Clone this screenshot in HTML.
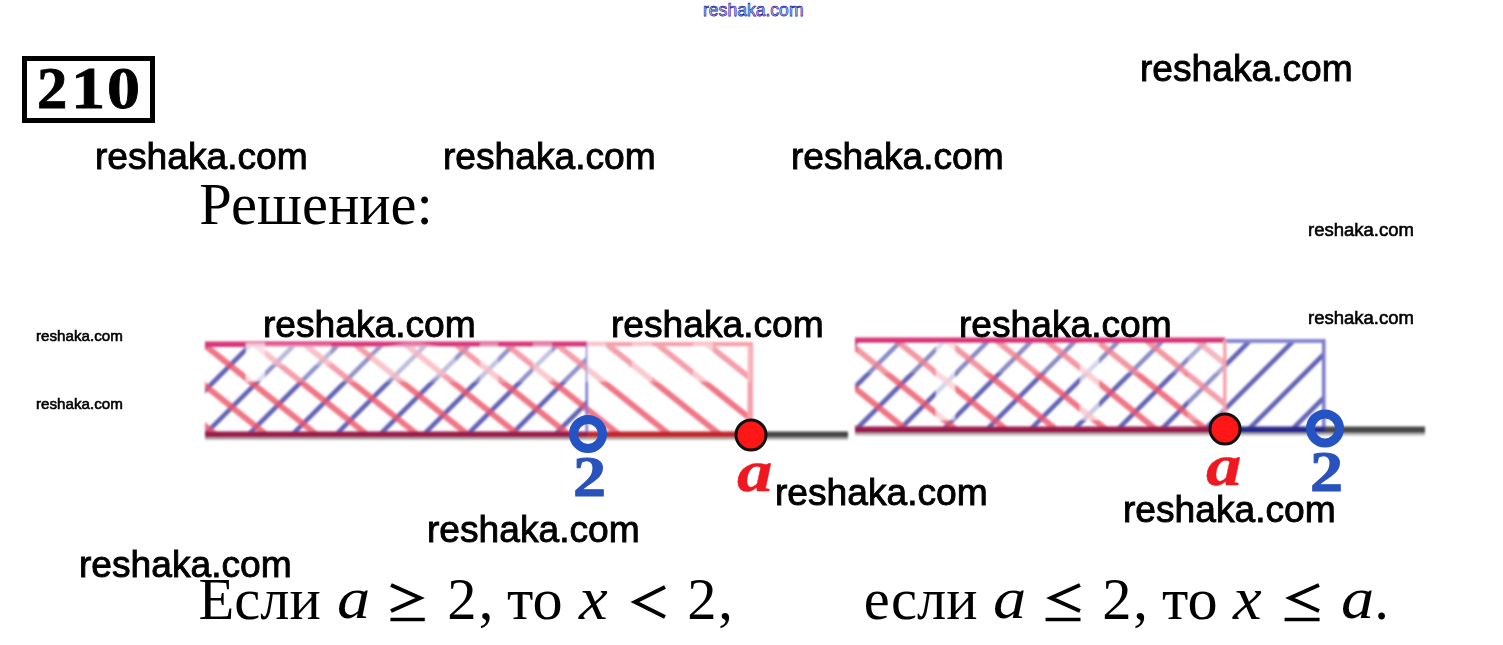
<!DOCTYPE html>
<html><head><meta charset="utf-8">
<style>
html,body{margin:0;padding:0;background:#fff;}
body{width:1503px;height:645px;position:relative;overflow:hidden;}
.a{position:absolute;white-space:nowrap;line-height:1;}
.wm{font-family:"Liberation Sans",sans-serif;color:#000;font-size:37.7px;-webkit-text-stroke:0.9px #000;transform:scaleX(0.986);transform-origin:0 0;}
.ws{font-family:"Liberation Sans",sans-serif;color:#000;-webkit-text-stroke:0.6px #000;}
.sf{font-family:"Liberation Serif",serif;color:#000;font-size:58px;}
.it{font-style:italic;}
svg{position:absolute;left:0;top:0;}
.dg{font:bold 59.5px "Liberation Serif",serif;line-height:1;-webkit-text-stroke:0.8px #000;transform-origin:0 0;}
.lb2{font:bold 56px "Liberation Serif",serif;color:#2a52bc;transform:scaleX(1.18);transform-origin:0 0;-webkit-text-stroke:1px #2a52bc;line-height:1;}
.lba{font:bold italic 59.6px "Liberation Serif",serif;color:#f01820;transform:scaleX(1.19);transform-origin:0 0;-webkit-text-stroke:0.4px #f01820;line-height:1;}
</style></head><body>

<!-- diagrams -->
<svg width="1503" height="645" viewBox="0 0 1503 645">
  <defs>
    <clipPath id="c1r"><rect x="205" y="343" width="546" height="90"/></clipPath>
    <clipPath id="c1b"><rect x="205" y="343" width="382" height="90"/></clipPath>
    <clipPath id="c2r"><rect x="855" y="339" width="370" height="88"/></clipPath>
    <clipPath id="c2b"><rect x="855" y="339" width="469" height="88"/></clipPath>
    <filter id="bl" x="-5%" y="-5%" width="110%" height="110%"><feGaussianBlur stdDeviation="1.0"/></filter>
  </defs>
  <g filter="url(#bl)">
  <!-- D1 red hatch: lines hitting y=432 at 212.6+50.4k, slope 0.8 -->
  <g clip-path="url(#c1b)" stroke="#6262b6" stroke-width="4.6" id="h1b"><line x1="221.6" y1="330" x2="106.6" y2="445"/><line x1="265.4" y1="330" x2="150.4" y2="445"/><line x1="309.2" y1="330" x2="194.2" y2="445"/><line x1="353.0" y1="330" x2="238.0" y2="445"/><line x1="396.8" y1="330" x2="281.8" y2="445"/><line x1="440.6" y1="330" x2="325.6" y2="445"/><line x1="484.4" y1="330" x2="369.4" y2="445"/><line x1="528.2" y1="330" x2="413.2" y2="445"/><line x1="572.0" y1="330" x2="457.0" y2="445"/><line x1="615.8" y1="330" x2="500.8" y2="445"/><line x1="659.6" y1="330" x2="544.6" y2="445"/><line x1="703.4" y1="330" x2="588.4" y2="445"/></g>
  <g clip-path="url(#c2b)" stroke="#6262b6" stroke-width="4.6" id="h2b"><line x1="873.3" y1="325" x2="758.3" y2="440"/><line x1="916.9" y1="325" x2="801.9" y2="440"/><line x1="960.5" y1="325" x2="845.5" y2="440"/><line x1="1004.1" y1="325" x2="889.1" y2="440"/><line x1="1047.7" y1="325" x2="932.7" y2="440"/><line x1="1091.3" y1="325" x2="976.3" y2="440"/><line x1="1134.9" y1="325" x2="1019.9" y2="440"/><line x1="1178.5" y1="325" x2="1063.5" y2="440"/><line x1="1222.1" y1="325" x2="1107.1" y2="440"/><line x1="1265.7" y1="325" x2="1150.7" y2="440"/><line x1="1309.3" y1="325" x2="1194.3" y2="440"/><line x1="1352.9" y1="325" x2="1237.9" y2="440"/><line x1="1396.5" y1="325" x2="1281.5" y2="440"/><line x1="1440.1" y1="325" x2="1325.1" y2="440"/></g>
  <g clip-path="url(#c1r)" stroke="#ec5468" stroke-width="6" stroke-opacity="0.8" id="h1r"><line x1="85.1" y1="330" x2="228.8" y2="445"/><line x1="135.5" y1="330" x2="279.2" y2="445"/><line x1="185.9" y1="330" x2="329.6" y2="445"/><line x1="236.3" y1="330" x2="380.0" y2="445"/><line x1="286.7" y1="330" x2="430.4" y2="445"/><line x1="337.1" y1="330" x2="480.9" y2="445"/><line x1="387.5" y1="330" x2="531.2" y2="445"/><line x1="437.9" y1="330" x2="581.6" y2="445"/><line x1="488.3" y1="330" x2="632.0" y2="445"/><line x1="538.7" y1="330" x2="682.4" y2="445"/><line x1="589.1" y1="330" x2="732.9" y2="445"/><line x1="639.5" y1="330" x2="783.2" y2="445"/><line x1="689.9" y1="330" x2="833.6" y2="445"/><line x1="740.3" y1="330" x2="884.0" y2="445"/></g>
  <g clip-path="url(#c2r)" stroke="#ec5468" stroke-width="6" stroke-opacity="0.8" id="h2r"><line x1="727.2" y1="325" x2="869.1" y2="440"/><line x1="777.2" y1="325" x2="919.1" y2="440"/><line x1="827.2" y1="325" x2="969.1" y2="440"/><line x1="877.2" y1="325" x2="1019.1" y2="440"/><line x1="927.2" y1="325" x2="1069.1" y2="440"/><line x1="977.2" y1="325" x2="1119.1" y2="440"/><line x1="1027.2" y1="325" x2="1169.1" y2="440"/><line x1="1077.2" y1="325" x2="1219.1" y2="440"/><line x1="1127.2" y1="325" x2="1269.1" y2="440"/><line x1="1177.2" y1="325" x2="1319.1" y2="440"/><line x1="1227.2" y1="325" x2="1369.1" y2="440"/></g>

  <!-- D1 borders -->
  <rect x="205" y="341.5" width="382" height="5.5" fill="#d8357a"/>
  <rect x="587" y="342" width="164" height="4.5" fill="#f6a0aa"/>
  <rect x="747.5" y="342" width="5.5" height="92" fill="#f6a0aa"/>
  <rect x="585.5" y="344" width="2.5" height="90" fill="#7a74d0"/>
  <!-- white overlay approx -->
  <g fill="#fff">
    <rect x="246" y="346" width="505" height="36" opacity="0.3"/>
    <rect x="246" y="343" width="19" height="38" opacity="0.7"/>
    <rect x="265" y="344" width="66" height="21" opacity="0.35"/>
    <ellipse cx="413" cy="362" rx="43" ry="19" opacity="0.4"/>
    <rect x="480" y="343" width="18" height="38" opacity="0.45"/>
    <rect x="533" y="343" width="19" height="38" opacity="0.45"/>
    <rect x="587" y="343" width="19" height="38" opacity="0.45"/>
    <rect x="632" y="343" width="20" height="38" opacity="0.45"/>
    <rect x="693" y="343" width="20" height="38" opacity="0.45"/>
    <rect x="858" y="343" width="365" height="30" opacity="0.25"/>
    <rect x="936" y="342" width="19" height="78" opacity="0.72"/>
    <rect x="1080" y="342" width="19" height="78" opacity="0.65"/>
    <rect x="1188" y="342" width="36" height="78" opacity="0.3"/>
  </g>
  <!-- D1 axis -->
  <rect x="205" y="437" width="643" height="3" fill="#b8b8b8"/>
  <rect x="205" y="431.5" width="382" height="6" fill="#9a1a4c"/>
  <rect x="587" y="431.5" width="164" height="6" fill="#c0282c"/>
  <rect x="751" y="431.5" width="97" height="6" fill="#474747"/>

  <!-- D2 borders -->
  <rect x="855" y="337.5" width="370" height="5.5" fill="#d8357a"/>
  <rect x="1225" y="339" width="99" height="4" fill="#8886d2"/>
  <rect x="1322" y="339" width="3.5" height="90" fill="#7a78cc"/>
  <rect x="1223" y="340" width="3.5" height="88" fill="#f6a0aa"/>
  <!-- D2 axis -->
  <rect x="855" y="432.5" width="570" height="3" fill="#b8b8b8"/>
  <rect x="855" y="426.5" width="370" height="6.5" fill="#9a1a4c"/>
  <rect x="1225" y="426.5" width="100" height="6.5" fill="#2c2c8c"/>
  <rect x="1325" y="426.5" width="100" height="6.5" fill="#4a4a4a"/>
  </g>

  <!-- points -->
  <circle cx="588" cy="434" r="14.5" fill="none" stroke="#2453c4" stroke-width="9"/>
  <circle cx="751" cy="435" r="15" fill="#ff1616" stroke="#111" stroke-width="3"/>
  <circle cx="1325" cy="428.5" r="14.5" fill="none" stroke="#2453c4" stroke-width="9"/>
  <circle cx="1225" cy="429" r="15" fill="#ff1616" stroke="#111" stroke-width="3"/>
</svg>

<!-- labels -->
<div class="a lb2" style="left:572.9px;top:449.3px;">2</div>
<div class="a lba" style="left:736.7px;top:441.5px;">a</div>
<div class="a lba" style="left:1205.6px;top:435.5px;">a</div>
<div class="a lb2" style="left:1309.8px;top:443.7px;">2</div>

<!-- top blue watermark -->
<div class="a" style="left:702.8px;top:-0.9px;font:19.2px 'Liberation Sans';color:#d8d8f4;-webkit-text-stroke:0.75px #1c1ca6;transform:scaleX(0.915);transform-origin:0 0;">reshaka.com</div>

<!-- 210 box -->
<div class="a" style="left:22.4px;top:55.6px;width:122.5px;height:57.8px;border:5px solid #000;"></div>
<div class="a dg" style="left:36.9px;top:59.4px;transform:scaleX(1.02);">2</div>
<div class="a dg" style="left:71.0px;top:59.4px;transform:scaleX(1.15);">1</div>
<div class="a dg" style="left:106.8px;top:59.4px;transform:scaleX(1.11);">0</div>

<!-- Решение -->
<div class="a sf" style="left:199.25px;top:175.6px;font-size:58.5px;">Решение:</div>

<!-- bottom text -->
<div class="a sf" style="left:198.55px;top:571.31px;font-size:58.5px;">Если</div>
<div class="a sf it" style="left:336.71px;top:569.39px;font-size:59.0px;transform:scaleX(1.126);transform-origin:0 0;">a</div>
<div class="a sf" style="left:447.26px;top:571.31px;font-size:58.5px;">2</div>
<div class="a sf" style="left:478.66px;top:571.31px;font-size:58.5px;">,</div>
<div class="a sf" style="left:507.30px;top:571.31px;font-size:58.5px;transform:scaleX(1.030);transform-origin:0 0;">то</div>
<div class="a sf it" style="left:578.55px;top:567.71px;font-size:61.0px;transform:scaleX(1.060);transform-origin:0 0;">x</div>
<div class="a sf" style="left:687.36px;top:571.31px;font-size:58.5px;">2</div>
<div class="a sf" style="left:718.16px;top:571.31px;font-size:58.5px;">,</div>
<div class="a sf" style="left:863.66px;top:571.31px;font-size:58.5px;">если</div>
<div class="a sf it" style="left:992.71px;top:569.39px;font-size:59.0px;transform:scaleX(1.126);transform-origin:0 0;">a</div>
<div class="a sf" style="left:1102.36px;top:571.31px;font-size:58.5px;">2</div>
<div class="a sf" style="left:1133.26px;top:571.31px;font-size:58.5px;">,</div>
<div class="a sf" style="left:1162.30px;top:571.31px;font-size:58.5px;transform:scaleX(1.030);transform-origin:0 0;">то</div>
<div class="a sf it" style="left:1233.35px;top:567.71px;font-size:61.0px;transform:scaleX(1.060);transform-origin:0 0;">x</div>
<div class="a sf it" style="left:1340.51px;top:569.39px;font-size:59.0px;transform:scaleX(1.126);transform-origin:0 0;">a</div>
<div class="a sf" style="left:1374.31px;top:571.31px;font-size:58.5px;">.</div>
<svg width="1503" height="645" viewBox="0 0 1503 645" style="pointer-events:none">
  <g fill="none" stroke="#000" stroke-width="4" stroke-linejoin="miter" stroke-miterlimit="10">
    <polyline points="391,585 420,598 391,611"/>
    <line x1="390.4" y1="619.6" x2="424.8" y2="619.6" stroke-width="3.5"/>
    <polyline points="665,587 635,602 665,617"/>
    <polyline points="1080,585 1051,598 1080,611"/>
    <line x1="1045.6" y1="619.6" x2="1080.5" y2="619.6" stroke-width="3.5"/>
    <polyline points="1319,585 1290,598 1319,611"/>
    <line x1="1284.6" y1="619.6" x2="1319.6" y2="619.6" stroke-width="3.5"/>
  </g>
</svg>

<!-- watermarks -->
<div class="a wm" style="left:1139.8px;top:50.0px;">reshaka.com</div>
<div class="a wm" style="left:95.4px;top:138.3px;">reshaka.com</div>
<div class="a wm" style="left:443.4px;top:138.3px;">reshaka.com</div>
<div class="a wm" style="left:791.4px;top:138.3px;">reshaka.com</div>
<div class="a wm" style="left:263.4px;top:306.3px;">reshaka.com</div>
<div class="a wm" style="left:611.4px;top:306.3px;">reshaka.com</div>
<div class="a wm" style="left:959.4px;top:306.3px;">reshaka.com</div>
<div class="a wm" style="left:775.4px;top:474.3px;">reshaka.com</div>
<div class="a wm" style="left:1123.4px;top:490.7px;">reshaka.com</div>
<div class="a wm" style="left:427.4px;top:510.7px;">reshaka.com</div>
<div class="a wm" style="left:79.4px;top:546.3px;">reshaka.com</div>
<div class="a ws" style="left:1308.2px;top:220.7px;font-size:18.7px;transform:scaleX(0.99);transform-origin:0 0;">reshaka.com</div>
<div class="a ws" style="left:1308.2px;top:308.6px;font-size:18.7px;transform:scaleX(0.99);transform-origin:0 0;">reshaka.com</div>
<div class="a ws" style="left:36px;top:328px;font-size:15.4px;transform:scaleX(0.985);transform-origin:0 0;">reshaka.com</div>
<div class="a ws" style="left:36px;top:395.8px;font-size:15.4px;transform:scaleX(0.985);transform-origin:0 0;">reshaka.com</div>


</body></html>
